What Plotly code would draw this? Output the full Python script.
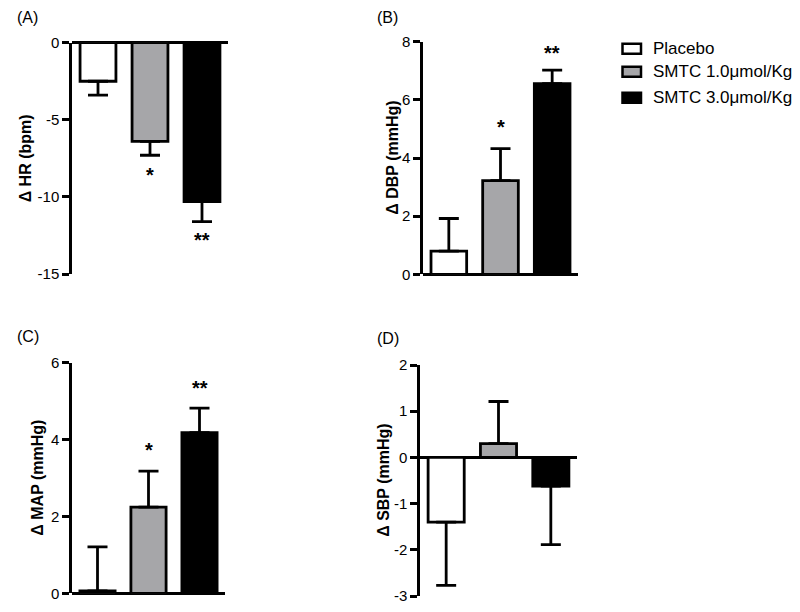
import plotly.graph_objects as go

groups = ["Placebo", "SMTC 1.0\u03bcmol/Kg", "SMTC 3.0\u03bcmol/Kg"]
colors = ["#ffffff", "#a6a6a9", "#000000"]

hr_mean = [-2.5, -6.4, -10.3]
hr_sem = [0.9, 0.9, 1.3]
hr_sig = ["", "*", "**"]
hr_ticks = [0, -5, -10, -15]

dbp_mean = [0.8, 3.22, 6.56]
dbp_sem = [1.12, 1.1, 0.46]
dbp_sig = ["", "*", "**"]
dbp_ticks = [0, 2, 4, 6, 8]

map_mean = [0.06, 2.24, 4.18]
map_sem = [1.15, 0.94, 0.64]
map_sig = ["", "*", "**"]
map_ticks = [0, 2, 4, 6]

sbp_mean = [-1.4, 0.3, -0.62]
sbp_sem = [1.37, 0.91, 1.27]
sbp_sig = ["", "", ""]
sbp_ticks = [2, 1, 0, -1, -2, -3]

# page body has an 8px margin; the figure is sized to fit inside the window
OFF = 8
W, H = 800 - OFF, 612 - OFF


def fx(px):
    return (px - OFF) / W


def fy(py):
    return 1 - (py - OFF) / H


panels = [
    dict(name="(A)", title="\u0394 HR (bpm)", mean=hr_mean, sem=hr_sem, sig=hr_sig,
         rng=[-15, 0], tickvals=hr_ticks, xpx=[72, 228], ypx=[274, 42.7],
         sigpos=[None, -8.6, -12.8], titlex=25, labx=15, laby=18),
    dict(name="(B)", title="\u0394 DBP (mmHg)", mean=dbp_mean, sem=dbp_sem, sig=dbp_sig,
         rng=[0, 8], tickvals=dbp_ticks, xpx=[423, 578], ypx=[274.3, 41.7],
         sigpos=[None, 5.07, 7.6], titlex=391.7, labx=375, laby=17),
    dict(name="(C)", title="\u0394 MAP (mmHg)", mean=map_mean, sem=map_sem, sig=map_sig,
         rng=[0, 6], tickvals=map_ticks, xpx=[72, 225], ypx=[593.3, 362.7],
         sigpos=[None, 3.73, 5.33], titlex=36.7, labx=15, laby=337),
    dict(name="(D)", title="\u0394 SBP (mmHg)", mean=sbp_mean, sem=sbp_sem, sig=sbp_sig,
         rng=[-3, 2], tickvals=sbp_ticks, xpx=[420, 577], ypx=[596, 365],
         sigpos=[None, None, None], titlex=383.3, labx=375, laby=338),
]

FONT = "Liberation Sans, Arial, sans-serif"
fig = go.Figure()
annotations = []
shapes = []

for i, p in enumerate(panels):
    k = "" if i == 0 else str(i + 1)
    xa, ya = "x" + k, "y" + k
    xd = [fx(p["xpx"][0]), fx(p["xpx"][1])]
    yd = [fy(p["ypx"][0]), fy(p["ypx"][1])]
    plus = [s if m >= 0 else 0 for m, s in zip(p["mean"], p["sem"])]
    minus = [s if m < 0 else 0 for m, s in zip(p["mean"], p["sem"])]
    fig.add_trace(go.Bar(
        x=[0, 1, 2], y=p["mean"], width=0.69,
        marker=dict(color=colors, line=dict(color="black", width=2.8)),
        error_y=dict(type="data", symmetric=False, array=plus, arrayminus=minus,
                     color="black", thickness=2.8, width=10),
        xaxis=xa, yaxis=ya, showlegend=False, hoverinfo="skip",
    ))
    fig.layout["xaxis" + k] = dict(domain=xd, range=[-0.5, 2.5], showline=False,
                                   showticklabels=False, ticks="", showgrid=False,
                                   zeroline=False, anchor=ya, fixedrange=True,
                                   automargin=False)
    fig.layout["yaxis" + k] = dict(domain=yd, range=p["rng"], tickvals=p["tickvals"],
                                   ticktext=[str(v) for v in p["tickvals"]],
                                   showline=True, linecolor="black", linewidth=2.5,
                                   ticks="outside", ticklen=7, tickwidth=2.5, tickcolor="black",
                                   showgrid=False, zeroline=True, zerolinecolor="black",
                                   zerolinewidth=2.5, anchor=xa, automargin=False,
                                   tickfont=dict(family=FONT, size=15, color="black"),
                                   fixedrange=True)
    for j, s in enumerate(p["sig"]):
        if s:
            annotations.append(dict(x=j, y=p["sigpos"][j], xref=xa, yref=ya, text="<b>" + s + "</b>",
                                    showarrow=False,
                                    font=dict(family=FONT, size=20, color="black")))
    annotations.append(dict(x=fx(p["titlex"]), y=(yd[0] + yd[1]) / 2, xref="paper", yref="paper",
                            text="<b>" + p["title"] + "</b>", textangle=-90, showarrow=False,
                            xanchor="center", yanchor="middle",
                            font=dict(family=FONT, size=16, color="black")))
    annotations.append(dict(x=fx(p["labx"]), y=fy(p["laby"]), xref="paper", yref="paper",
                            text=p["name"], showarrow=False, xanchor="left", yanchor="middle",
                            font=dict(family=FONT, size=16, color="black")))

# legend
leg_y = [48.8, 71.7, 97.7]
for g, c, yy in zip(groups, colors, leg_y):
    shapes.append(dict(type="rect", xref="paper", yref="paper",
                       x0=fx(622.5), x1=fx(641), y0=fy(yy + 5), y1=fy(yy - 5),
                       fillcolor=c, line=dict(color="black", width=2.5)))
    annotations.append(dict(x=fx(651), y=fy(yy), xref="paper", yref="paper", text=g,
                            showarrow=False, xanchor="left", yanchor="middle",
                            font=dict(family=FONT, size=17, color="black")))

fig.update_layout(width=W, height=H, margin=dict(l=0, r=0, t=0, b=0, pad=0),
                  paper_bgcolor="white", plot_bgcolor="white", template="none",
                  annotations=annotations, shapes=shapes, bargap=0.3)
fig.write_html("out.html")
